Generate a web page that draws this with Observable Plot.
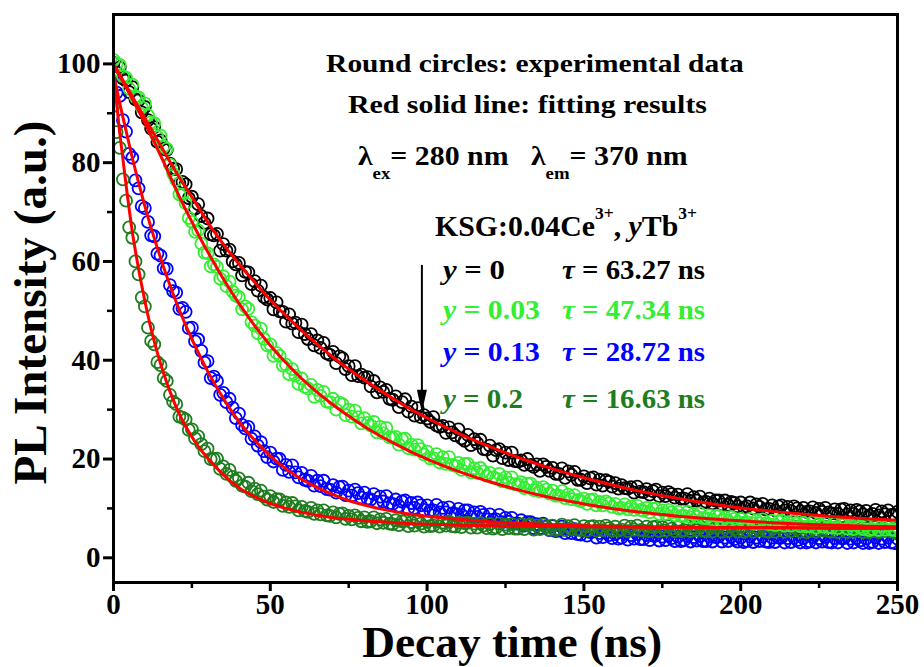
<!DOCTYPE html>
<html><head><meta charset="utf-8">
<script src="https://cdn.jsdelivr.net/npm/d3@7"></script>
<script src="https://cdn.jsdelivr.net/npm/@observablehq/plot@0.6"></script>
<style>body{margin:0;background:#fff}#chart{width:924px;height:667px}</style>
</head><body><div id="chart"></div>
<script>
// ---- data ----
const times = d3.range(0, 251); // sampling times, ns (1 ns step)

const black = [100.2,98.3,99.3,97.0,96.6,94.3,95.3,92.8,92.6,90.2,91.3,88.6,86.9,87.2,84.2,84.5,82.8,82.6,79.8,78.8,
78.7,75.8,76.1,75.6,72.8,73.1,70.7,71.6,69.2,67.8,68.7,65.5,65.3,65.6,62.2,63.5,62.2,62.4,60.0,59.4,
59.7,57.2,57.9,57.8,55.4,56.0,54.1,55.1,52.8,52.3,52.6,50.3,51.7,49.9,49.8,47.8,49.3,47.4,47.6,45.7,
47.2,45.3,44.3,45.3,43.0,44.0,42.5,43.5,41.4,41.1,41.7,39.4,40.8,40.4,38.2,38.8,37.0,38.8,36.8,37.1,
36.5,36.6,34.7,35.8,33.5,34.5,33.6,34.0,32.2,32.0,32.7,30.5,31.5,32.1,29.6,30.6,28.8,30.3,28.5,28.9,
28.2,27.5,28.5,26.8,26.5,26.7,25.3,26.4,25.4,24.8,26.0,24.2,23.7,24.9,22.8,24.0,23.2,23.9,22.0,21.9,
22.7,20.7,21.8,22.0,20.2,21.3,19.8,21.3,19.6,19.5,19.7,18.8,20.0,18.8,18.4,18.9,17.6,18.9,18.4,17.6,
18.2,17.0,17.0,18.1,16.2,17.5,16.8,17.4,15.8,15.8,16.5,15.1,16.1,16.3,14.8,15.8,14.6,15.7,15.4,14.4,
15.1,14.0,14.7,14.1,14.0,14.3,13.2,14.4,13.4,13.3,13.9,12.8,13.5,13.8,12.5,13.2,12.5,13.3,12.9,12.2,
12.8,12.0,12.0,12.9,11.5,12.3,11.6,12.4,11.2,11.3,12.0,11.0,11.6,11.6,10.8,11.6,10.7,11.3,11.1,10.4,
11.2,10.2,10.4,11.2,10.0,10.8,10.3,10.9,9.8,9.9,10.6,9.6,10.4,10.6,9.6,10.3,9.5,10.4,10.0,9.4,
10.1,9.3,9.4,10.2,9.1,9.9,9.3,10.1,9.2,9.0,9.8,8.9,9.8,9.9,8.8,9.6,8.9,9.7,9.4,8.8,
9.5,8.6,8.9,9.7,8.6,9.4,8.8,9.6,8.7,8.7,9.3];

const green = [100.8,100.0,99.8,97.5,97.2,95.0,95.8,93.4,93.2,91.2,92.0,89.6,88.2,88.0,85.2,85.5,83.3,82.8,79.6,77.8,
76.5,73.6,73.6,71.8,68.8,68.0,66.0,66.3,63.6,61.8,61.7,59.0,59.4,58.9,56.5,57.0,55.0,55.9,53.9,53.1,
52.8,50.3,50.9,50.4,47.7,47.0,45.5,46.4,44.3,43.0,43.2,40.9,41.5,40.9,38.9,39.1,37.2,38.2,36.9,35.2,
36.3,34.6,34.3,35.0,32.6,34.0,32.8,33.6,31.6,31.5,32.2,30.0,31.4,31.1,28.9,30.0,28.6,29.8,28.5,27.2,
28.3,27.3,26.8,27.5,25.4,26.5,25.2,26.3,24.4,24.3,24.5,22.9,24.0,24.1,22.2,22.9,21.9,22.8,22.0,20.9,
21.5,20.1,20.2,21.0,19.3,20.4,19.0,20.4,18.8,18.6,19.2,17.8,19.0,19.0,17.3,18.1,17.2,18.2,17.5,16.6,
17.2,16.3,16.1,17.0,15.5,16.3,15.2,16.3,14.9,14.8,15.3,14.1,15.0,15.0,13.7,14.2,13.4,14.3,13.8,13.0,
13.6,12.6,12.6,13.5,12.1,12.8,11.9,12.7,11.7,11.5,12.0,10.9,11.7,11.8,10.6,11.3,10.6,11.4,11.0,10.3,
10.9,10.0,10.1,10.8,9.8,10.4,9.7,10.5,9.7,9.5,10.1,9.2,9.9,10.0,8.9,9.6,8.9,9.7,9.2,8.6,
9.3,8.5,8.5,9.3,8.2,8.9,8.3,9.0,8.1,8.0,8.6,7.7,8.5,8.5,7.6,8.2,7.5,8.3,7.9,7.2,
7.9,7.1,7.2,7.9,6.9,7.6,7.0,7.8,7.0,6.8,7.5,6.6,7.4,7.5,6.5,7.2,6.5,7.4,6.9,6.4,
7.1,6.3,6.4,7.2,6.1,6.9,6.3,7.1,6.2,6.1,6.9,6.0,6.8,6.8,5.9,6.6,5.8,6.7,6.2,5.8,
6.5,5.6,5.8,6.6,5.6,6.4,5.7,6.5,5.7,5.6,6.3];

const blue = [97.5,94.2,93.5,88.6,86.3,81.8,81.0,76.4,74.8,71.2,70.8,68.0,65.3,65.1,61.6,61.2,58.6,58.5,55.2,54.0,
53.7,50.4,50.6,49.8,46.5,46.6,43.8,44.2,41.9,39.5,39.8,36.4,36.7,35.8,33.0,33.4,31.5,32.2,30.4,28.3,
29.2,26.9,26.2,26.5,24.1,24.6,22.7,23.4,21.6,20.4,21.3,19.5,20.1,20.0,17.8,18.8,17.4,18.7,17.3,16.3,
17.2,15.8,15.6,16.6,14.6,15.6,14.5,15.6,13.9,13.8,14.7,13.2,14.3,14.4,12.7,13.6,12.6,13.8,13.1,12.2,
13.2,12.0,11.8,12.9,11.3,12.4,11.4,12.5,11.0,10.9,11.8,10.5,11.4,11.6,10.0,11.1,10.1,11.2,10.6,9.7,
10.6,9.6,9.6,10.7,9.2,10.1,9.2,10.2,9.0,8.9,9.9,8.7,9.6,9.6,8.3,9.2,8.3,9.3,8.7,7.8,
8.8,7.7,7.8,8.7,7.2,8.1,7.3,8.1,6.9,6.9,7.6,6.5,7.2,7.2,6.0,6.8,6.0,6.9,6.3,5.6,
6.4,5.4,5.5,6.3,5.0,5.8,5.0,5.8,4.8,4.7,5.5,4.5,5.2,5.3,4.1,5.0,4.2,5.1,4.6,4.0,
4.8,3.9,4.1,4.9,3.7,4.6,3.9,4.8,3.8,3.8,4.6,3.6,4.5,4.5,3.5,4.3,3.6,4.5,4.0,3.4,
4.3,3.4,3.6,4.4,3.3,4.2,3.5,4.4,3.4,3.4,4.3,3.3,4.2,4.3,3.3,4.1,3.4,4.3,3.8,3.3,
4.1,3.2,3.4,4.3,3.2,4.1,3.4,4.3,3.3,3.2,4.1,3.2,4.1,4.1,3.1,4.0,3.2,4.1,3.6,3.1,
4.0,3.1,3.3,4.2,3.1,4.0,3.3,4.2,3.2,3.1,4.0,3.1,4.0,4.0,3.0,3.9,3.1,4.0,3.5,3.0,
3.9,3.0,3.2,4.1,3.0,3.9,3.2,4.1,3.1,3.0,3.9];

const darkGreen = [91.5,86.2,83.0,76.6,72.3,66.9,64.8,60.0,57.4,52.7,50.9,46.6,43.9,43.2,39.6,39.0,36.4,35.8,33.0,31.6,
31.1,28.6,28.4,28.0,25.9,26.0,24.2,24.6,23.0,21.6,22.1,20.0,20.0,20.1,18.0,18.5,17.0,17.8,16.4,15.6,
16.1,14.6,14.4,15.2,13.5,14.0,12.9,13.6,12.4,11.8,12.5,11.3,11.9,11.8,10.5,11.2,10.3,11.1,10.4,9.6,
10.3,9.5,9.3,10.1,8.9,9.6,8.8,9.6,8.6,8.5,9.2,8.2,8.9,9.0,7.9,8.5,7.8,8.6,8.1,7.4,
8.2,7.3,7.4,8.2,7.0,7.8,7.1,7.9,6.9,6.8,7.6,6.6,7.4,7.5,6.4,7.2,6.5,7.4,6.9,6.3,
7.3,6.4,6.5,7.4,6.3,7.1,6.5,7.3,6.4,6.3,7.1,6.2,7.0,7.1,6.1,6.9,6.1,7.0,6.5,6.0,
6.8,5.9,6.1,6.9,5.8,6.7,6.0,6.8,5.9,5.9,6.7,5.8,6.6,6.7,5.7,6.5,5.8,6.7,6.2,5.7,
6.5,5.6,5.8,6.7,5.6,6.4,5.8,6.6,5.7,5.6,6.4,5.5,6.3,6.4,5.5,6.3,5.6,6.5,6.0,5.5,
6.3,5.5,5.7,6.5,5.4,6.3,5.7,6.5,5.6,5.5,6.3,5.4,6.2,6.3,5.4,6.2,5.5,6.4,5.9,5.4,
6.2,5.4,5.6,6.4,5.4,6.2,5.6,6.4,5.5,5.4,6.2,5.3,6.1,6.2,5.3,6.1,5.4,6.3,5.8,5.3,
6.1,5.3,5.5,6.3,5.3,6.1,5.5,6.3,5.4,5.3,6.1,5.3,6.1,6.2,5.3,6.1,5.4,6.3,5.8,5.3,
6.1,5.2,5.5,6.3,5.3,6.1,5.5,6.3,5.4,5.3,6.1,5.2,6.0,6.1,5.2,6.0,5.3,6.2,5.7,5.2,
6.0,5.2,5.4,6.2,5.2,6.0,5.4,6.2,5.3,5.2,6.0];

// fitting results (red solid lines)
const fitT = [0,2,4,6,8,10,12,14,16,18,20,22,25,28,30,35,40,45,50,55,60,65,70,75,80,85,90,95,100,110,120,130,140,150,160,170,180,190,200,210,220,230,240,250];
const fitBlack = [100,97.8,95.6,93.4,91.2,89,86.8,84.6,82.4,80.2,78,76,73,70,68,63.5,59.5,55.8,52.2,49,46,43.2,40.6,38.2,36,33.9,31.9,30,28.3,25.2,22.5,20.1,18,16.2,14.6,13.2,12,11,10.1,9.4,8.8,8.3,7.9,7.6];
const fitGreen = [99.5,97.5,95.2,92.9,90.5,88,85.4,82.8,80.1,77.3,74.5,71.8,68,64.3,62,56.5,51.5,47,43,39.5,36.3,33.5,31,28.7,26.6,24.7,23,21.4,20,17.5,15.4,13.6,12.1,10.9,9.9,9.1,8.4,7.9,7.5,7.1,6.8,6.6,6.4,6.3];
const fitBlue = [98,92,86.5,81,76,71.2,66.8,62.7,58.8,55.2,51.8,48.6,44.3,40.3,37.8,32.3,27.6,23.8,20.6,18,15.9,14.2,12.8,11.6,10.7,9.9,9.3,8.8,8.4,7.8,7.3,7,6.7,6.5,6.4,6.3,6.2,6.2,6.1,6.1,6.1,6.0,6.0,6.0];
const fitDarkGreen = [98,86,75.5,66,58.5,52,46.3,41.5,37.3,33.7,30.5,27.8,24.5,21.7,20.2,16.8,14.2,12.4,11,10,9.2,8.6,8.1,7.8,7.5,7.3,7.1,6.9,6.8,6.6,6.5,6.4,6.35,6.3,6.25,6.2,6.2,6.15,6.1,6.1,6.05,6.0,6.0,6.0];

const xTicks = [0,50,100,150,200,250];
const xMinor = [25,75,125,175,225];
const yTicks = [0,20,40,60,80,100];
const yMinor = [10,30,50,70,90];

const samples = [
  {y: "0",    tau: "63.27", color: "#000000"},
  {y: "0.03", tau: "47.34", color: "#33ee33"},
  {y: "0.13", tau: "28.72", color: "#0000ff"},
  {y: "0.2",  tau: "16.63", color: "#1e7d1e"}
];

// ---- chart ----
const SERIF = "'Liberation Serif','Times New Roman','DejaVu Serif',serif";
const rows = (vals) => times.map((t, i) => ({t, v: vals[i]}));
const fitRows = (vals) => fitT.map((t, i) => ({t, v: vals[i]}));
const dots = (vals, color) => Plot.dot(rows(vals), {x: "t", y: "v", r: 6, stroke: color, strokeWidth: 1.8, clip: true});
const fit = (vals) => Plot.line(fitRows(vals), {x: "t", y: "v", stroke: "#ff0000", strokeWidth: 3, curve: "monotone-x", clip: true});

const chart = Plot.plot({
  width: 924, height: 667,
  marginLeft: 113, marginRight: 27, marginTop: 14, marginBottom: 85,
  style: {fontFamily: SERIF, fontWeight: "bold", background: "white", overflow: "visible"},
  x: {domain: [0, 250]},
  y: {domain: [-5, 110]},
  marks: [
    dots(black, samples[0].color),
    dots(blue, samples[2].color),
    dots(darkGreen, samples[3].color),
    dots(green, samples[1].color),
    fit(fitBlack), fit(fitGreen), fit(fitBlue), fit(fitDarkGreen),
    Plot.frame({stroke: "#000", strokeWidth: 3}),
    Plot.axisY({ticks: yTicks, tickSize: 10, tickPadding: 3, fontSize: 29, fontWeight: "bold", strokeWidth: 3, label: null}),
    Plot.axisY({ticks: yMinor, tickSize: 6, text: null, strokeWidth: 2.5, label: null}),
    Plot.axisX({ticks: xTicks, tickSize: 9, tickPadding: 2, fontSize: 29, fontWeight: "bold", strokeWidth: 3, label: null}),
    Plot.axisX({ticks: xMinor, tickSize: 6, text: null, strokeWidth: 2.5, label: null})
  ]
});
document.getElementById("chart").appendChild(chart);

// ---- annotations (positioned through the plot's scales) ----
const sx = chart.scale("x"), sy = chart.scale("y");
const svg = d3.select(chart);
const ann = svg.append("g").attr("text-anchor", "start");

function addText(parts, {x, y, size, fill = "#000", anchor = "start", width = null, rotate = 0}) {
  const g = ann.append("g").attr("transform", `translate(${x},${y}) rotate(${rotate})`);
  const inner = g.append("g");
  const t = inner.append("text")
    .attr("text-anchor", "start")
    .attr("font-family", SERIF).attr("font-weight", "bold")
    .attr("font-size", size).attr("fill", fill)
    .style("white-space", "pre");
  for (const p of parts) {
    const ts = t.append("tspan").text(p.t);
    if (p.italic) ts.attr("font-style", "italic");
    if (p.size) ts.attr("font-size", p.size);
    if (p.dy) ts.attr("dy", p.dy);
  }
  const w = t.node().getComputedTextLength();
  const k = width ? width / w : 1;
  const off = anchor === "middle" ? -w / 2 : anchor === "end" ? -w : 0;
  inner.attr("transform", `scale(${k},1) translate(${off},0)`);
}

const px = (v) => sx.apply(v), py = (v) => sy.apply(v);

addText([{t: "Round circles: experimental data"}], {x: px(134.6), y: py(98.2), size: 25.5, anchor: "middle", width: 418});
addText([{t: "Red solid line: fitting results"}], {x: px(132.2), y: py(90.0), size: 25.5, anchor: "middle", width: 359});
addText([
  {t: "λ"}, {t: "ex", size: 17, dy: 14}, {t: "= 280 nm   λ", dy: -14}, {t: "em", size: 17, dy: 14}, {t: "= 370 nm", dy: -14}
], {x: px(78.1), y: py(79.4), size: 27, width: 330});
addText([
  {t: "KSG:0.04Ce"}, {t: "3+", size: 17, dy: -17}, {t: ", ", dy: 17}, {t: "y", italic: true}, {t: "Tb"}, {t: "3+", size: 17, dy: -17}
], {x: px(102.7), y: py(65.0), size: 29, width: 262});

const rowY = [56.3, 48.3, 39.8, 30.3];
const leftW = [62, 97, 97, 80];
samples.forEach((s, i) => {
  addText([{t: "y", italic: true}, {t: " = " + s.y}], {x: px(105.2), y: py(rowY[i]), size: 28, fill: s.color, width: leftW[i]});
  addText([{t: "τ", italic: true}, {t: " = " + s.tau + " ns"}], {x: px(143.2), y: py(rowY[i]), size: 28, fill: s.color, width: 143});
});

// arrow
const ax = px(98.5);
ann.append("line").attr("x1", ax).attr("x2", ax).attr("y1", py(59.2)).attr("y2", py(33.5))
  .attr("stroke", "#000").attr("stroke-width", 2);
ann.append("path")
  .attr("d", `M${ax - 5},${py(33.9)} L${ax + 5},${py(33.9)} L${ax},${py(29.3)} Z`)
  .attr("fill", "#000");

// axis labels
addText([{t: "Decay time (ns)"}], {x: px(127.3), y: 657, size: 44, anchor: "middle", width: 300});
addText([{t: "PL Intensity (a.u.)"}], {x: 46, y: py(51.6), size: 46, anchor: "middle", width: 364, rotate: -90});
</script>
</body></html>
